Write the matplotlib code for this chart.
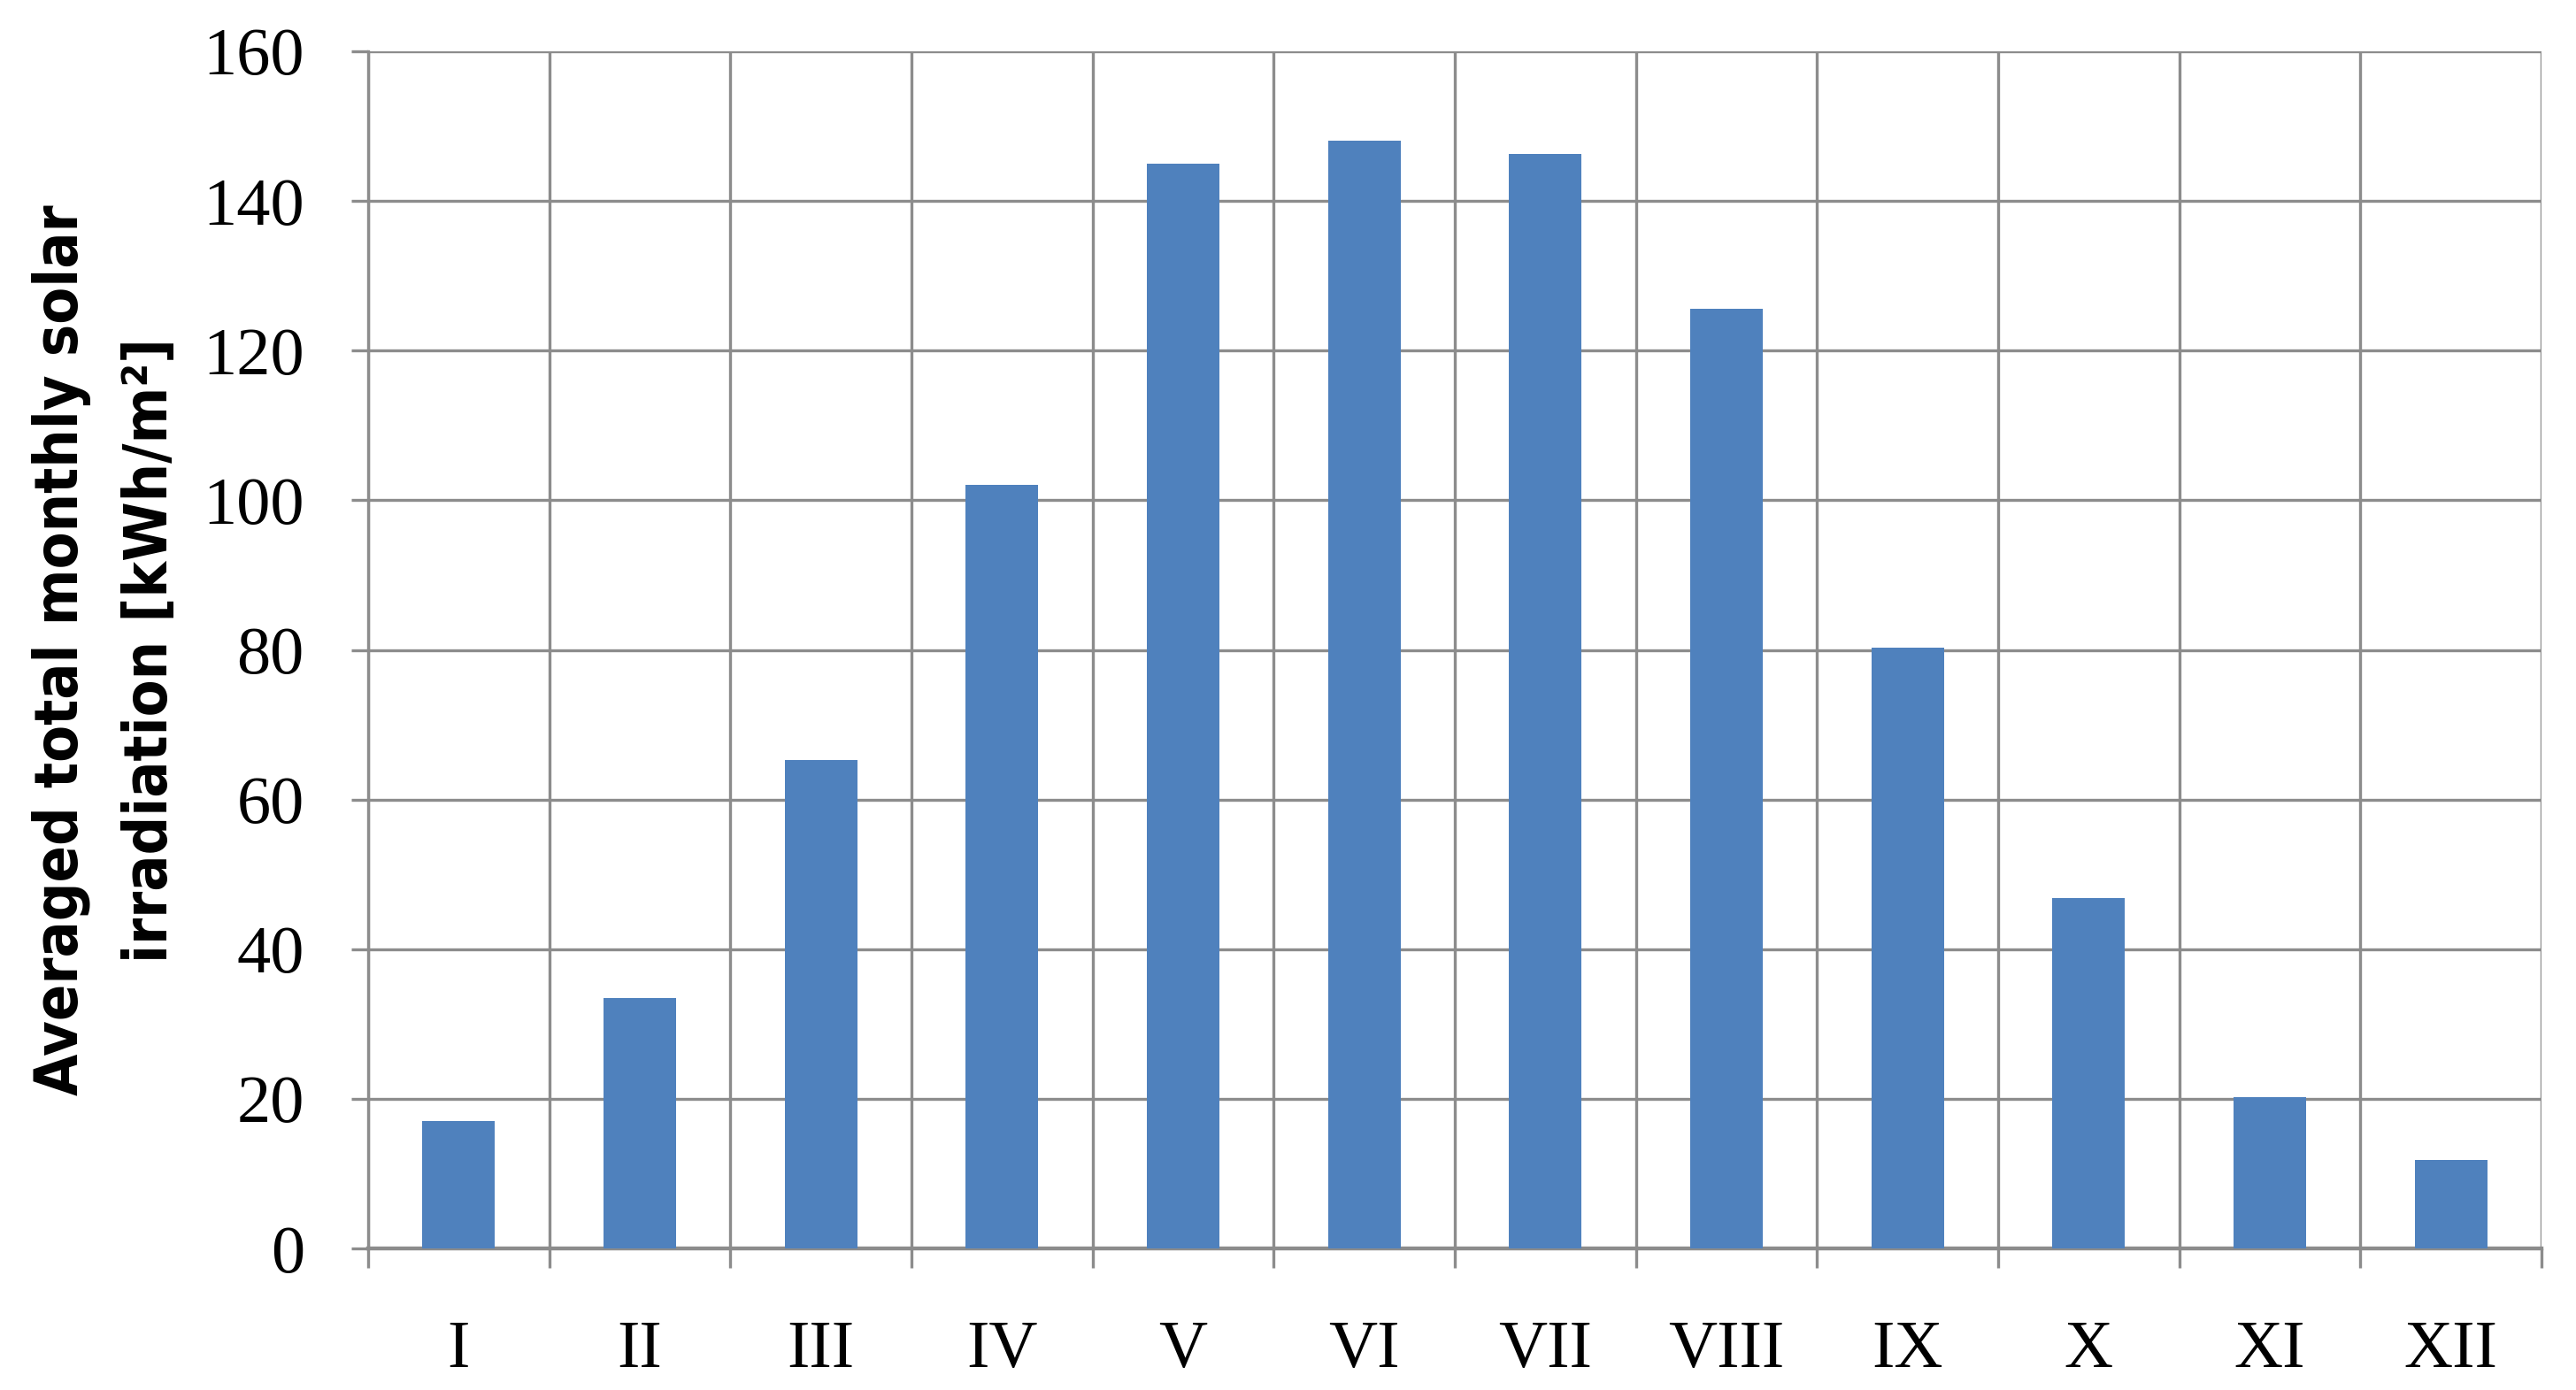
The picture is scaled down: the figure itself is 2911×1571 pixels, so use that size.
import numpy as np
import matplotlib.pyplot as plt
from matplotlib.ticker import FixedLocator

months = ['I', 'II', 'III', 'IV', 'V', 'VI', 'VII', 'VIII', 'IX', 'X', 'XI', 'XII']
irradiation = [17.0, 33.5, 65.3, 102.0, 145.0, 148.0, 146.3, 125.6, 80.3, 46.8, 20.2, 11.8]
y_ticks = [0, 20, 40, 60, 80, 100, 120, 140, 160]

grid_color = '#8c8c8c'
bar_color = '#4f81bd'

fig = plt.figure(figsize=(29.11, 15.71), dpi=100)
ax = fig.add_axes([0.1429, 0.1018, 0.9866 - 0.1429, 0.9631 - 0.1018])

x = np.arange(1, len(months) + 1)
ax.bar(x, irradiation, width=0.4, color=bar_color, zorder=3)

ax.set_xlim(0.5, 12.5)
ax.set_ylim(0, 160)
ax.set_yticks(y_ticks)
ax.set_xticks(x)
ax.set_xticklabels(months)
ax.xaxis.set_minor_locator(FixedLocator(np.arange(0.5, 13, 1)))

serif = 'Liberation Serif'
for lab in ax.get_xticklabels() + ax.get_yticklabels():
    lab.set_fontfamily(serif)
    lab.set_fontsize(55)

ax.tick_params(axis='x', which='major', length=0, pad=58)
ax.tick_params(axis='x', which='minor', length=16, width=2.4, color=grid_color)
ax.tick_params(axis='y', which='major', length=14, width=2.4, color=grid_color, pad=38)

ax.grid(axis='y', which='major', color=grid_color, linewidth=2.4, zorder=0)
ax.grid(axis='x', which='minor', color=grid_color, linewidth=2.4, zorder=0)
ax.set_axisbelow(True)

for side in ['top', 'right']:
    ax.spines[side].set_visible(False)
ax.spines['left'].set_color(grid_color)
ax.spines['left'].set_linewidth(2.4)
ax.spines['bottom'].set_color(grid_color)
ax.spines['bottom'].set_linewidth(3.2)

ax.set_ylabel('Averaged total monthly solar\nirradiation [kWh/m²]',
              fontfamily='DejaVu Sans', fontstretch='condensed', fontweight='bold',
              fontsize=49, linespacing=1.65, labelpad=19)

fig.savefig('out.png', dpi=100, facecolor='white')
